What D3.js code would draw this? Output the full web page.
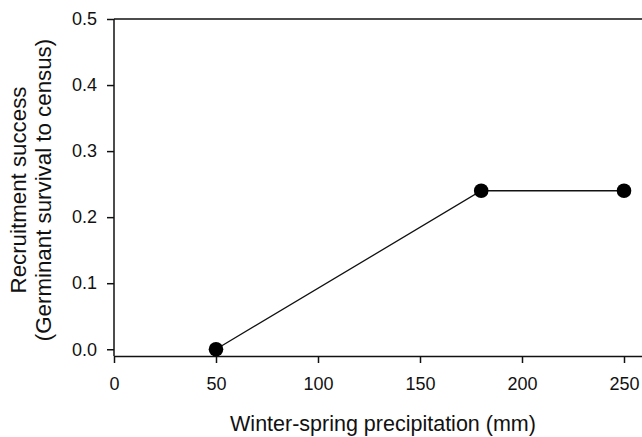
<!DOCTYPE html>
<html>
<head>
<meta charset="utf-8">
<script src="https://cdn.jsdelivr.net/npm/d3@7"></script>
<style>
  html, body { margin: 0; padding: 0; background: #fff; overflow: hidden; }
  svg { display: block; font-family: "Liberation Sans", Arial, sans-serif; }
</style>
</head>
<body>
<svg id="chart" width="642" height="437"></svg>
<script>
// Recruitment success vs. winter-spring precipitation
const precipitation = [50, 180, 250];
const recruitment = [0.0, 0.24, 0.24];
const xTicks = [0, 50, 100, 150, 200, 250];
const yTicks = [0.0, 0.1, 0.2, 0.3, 0.4, 0.5];

const svg = d3.select("#chart");
const plotLeft = 114, plotTop = 19, axisY = 356;

const x = d3.scaleLinear().domain([0, 300]).range([plotLeft, plotLeft + 300 * 2.04]);
const y = d3.scaleLinear().domain([-0.0102, 0.5]).range([axisY, plotTop]);

// frame top line
svg.append("line")
  .attr("x1", plotLeft).attr("x2", x(300))
  .attr("y1", y(0.5)).attr("y2", y(0.5))
  .attr("stroke", "#111").attr("stroke-width", 1.5);

const xAxis = svg.append("g")
  .attr("transform", `translate(0,${axisY})`)
  .call(d3.axisBottom(x).tickValues(xTicks).tickSize(7).tickPadding(14).tickSizeOuter(0));
const yAxis = svg.append("g")
  .attr("transform", `translate(${plotLeft},0)`)
  .call(d3.axisLeft(y).tickValues(yTicks).tickFormat(d3.format(".1f")).tickSize(7).tickPadding(10).tickSizeOuter(0));

[xAxis, yAxis].forEach(g => {
  g.selectAll("path.domain").attr("stroke", "#111").attr("stroke-width", 1.5);
  g.selectAll(".tick line").attr("stroke", "#111").attr("stroke-width", 1.5);
  g.selectAll(".tick text").attr("fill", "#111")
    .style("font-size", "18px").style("font-family", "Liberation Sans, Arial, sans-serif");
});
// the y axis line runs the full height of the plot
yAxis.select("path.domain").attr("d", `M0,${axisY}V${y(0.5)}`);

// connecting line
svg.append("path")
  .datum(precipitation.map((p, i) => [p, recruitment[i]]))
  .attr("fill", "none").attr("stroke", "#111").attr("stroke-width", 1.3)
  .attr("d", d3.line().x(d => x(d[0])).y(d => y(d[1])));

// points
svg.selectAll("circle.pt")
  .data(precipitation.map((p, i) => [p, recruitment[i]]))
  .join("circle").attr("class", "pt")
  .attr("cx", d => x(d[0])).attr("cy", d => y(d[1]))
  .attr("r", 7.3).attr("fill", "#000");

// axis titles
svg.append("text")
  .attr("x", 383).attr("y", 431)
  .attr("text-anchor", "middle")
  .style("font-size", "21.5px").attr("fill", "#111")
  .text("Winter-spring precipitation (mm)");

const yt = svg.append("text")
  .attr("transform", "translate(0,190) rotate(-90)")
  .attr("text-anchor", "middle")
  .style("font-size", "22.3px").attr("fill", "#111");
yt.append("tspan").attr("x", 0).attr("y", 26).text("Recruitment success");
yt.append("tspan").attr("x", 0).attr("y", 51).text("(Germinant survival to census)");
</script>
</body>
</html>
